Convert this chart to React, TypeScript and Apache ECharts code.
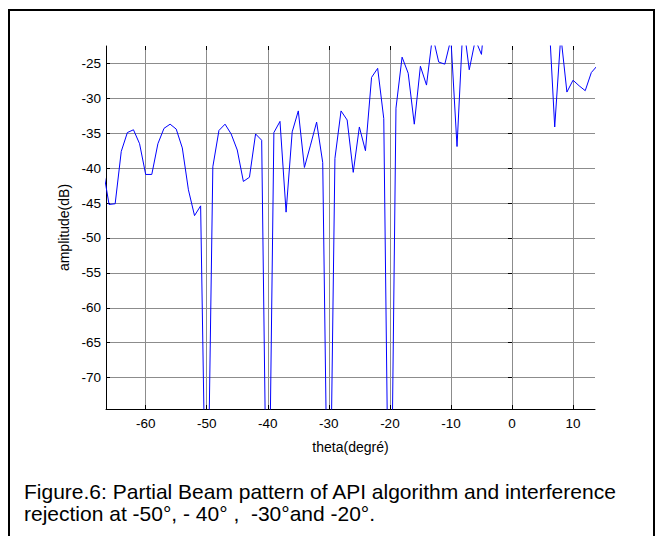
import React, { useEffect, useRef } from 'react';
import * as echarts from 'echarts';

const theta = [
  -67, -66, -65, -64, -63, -62, -61, -60, -59, -58, -57, -56, -55, -54, -53, -52, -51,
  -50, -49, -48, -47, -46, -45, -44, -43, -42, -41, -40, -39, -38, -37, -36, -35, -34,
  -33, -32, -31, -30, -29, -28, -27, -26, -25, -24, -23, -22, -21, -20, -19, -18, -17,
  -16, -15, -14, -13, -12, -11, -10, -9, -8, -7, -6, -5, -4, -3, -2, -1, 0, 1, 2, 3, 4,
  5, 6, 7, 8, 9, 10, 11, 12, 13, 14,
];

const amplitude = [
  -40, -45.2, -45.1, -37.6, -34.9, -34.5, -36.5, -40.9, -40.9, -36.5, -34.3, -33.7, -34.4,
  -37.1, -43.1, -46.8, -45.4,
  -100, -39.8, -34.6, -33.7, -35.1, -37.4, -41.9, -41.3, -35.1, -36.0,
  -105, -34.9, -33.3, -46.3, -34.8, -31.8, -39.9, -36.7, -33.4, -39.2,
  -105, -38.6, -31.8, -33.1, -40.6, -34.1, -37.5, -27.0, -25.7, -32.9,
  -108, -31.4, -24.1, -26.4, -33.7, -25.4, -28.1, -21.0, -24.8, -25.1, -21.5, -36.9,
  -19.0, -25.9, -21.6, -23.7, -14, -9, -5, -2, -0.5, -1, -3, -6, -10, -14, -17.5,
  -34.1, -21.0, -29.1, -27.4, -28.2, -28.9, -26.3, -25.3,
];

const xTicks = [-60, -50, -40, -30, -20, -10, 0, 10];
const yTicks = [-70, -65, -60, -55, -50, -45, -40, -35, -30, -25];

const xName = 'theta(degré)';
const yName = 'amplitude(dB)';
const captionLines = [
  'Figure.6: Partial Beam pattern of API algorithm and interference',
  'rejection at -50°, - 40° ,  -30°and -20°.',
];

const FONT = '"Liberation Sans", Arial, sans-serif';

export default function App() {
  const ref = useRef<HTMLDivElement>(null);

  useEffect(() => {
    document.body.style.margin = '0';
    const chart = echarts.init(ref.current!, null, { renderer: 'svg' });
    const gridColor = '#8c8c8c';
    chart.setOption({
      animation: false,
      backgroundColor: '#ffffff',
      textStyle: { fontFamily: FONT },
      grid: { left: 106, right: 69, top: 46, bottom: 127, containLabel: false },
      xAxis: [
        {
          type: 'value',
          position: 'bottom',
          min: -66.5,
          max: 13.6,
          name: xName,
          nameLocation: 'middle',
          nameGap: 31,
          nameTextStyle: { fontSize: 14, color: '#000', fontFamily: FONT },
          axisLine: { show: true, onZero: false, lineStyle: { color: '#000', width: 1 } },
          axisTick: { show: true, inside: true, length: 4, customValues: xTicks, lineStyle: { color: '#000' } },
          axisLabel: { customValues: xTicks, color: '#000', fontSize: 13.5, margin: 7, fontFamily: FONT },
          splitLine: { show: true, lineStyle: { color: gridColor, width: 1 } },
        },
        {
          type: 'value',
          position: 'top',
          min: -66.5,
          max: 13.6,
          axisLine: { show: false },
          axisTick: { show: true, inside: true, length: 4, customValues: xTicks, lineStyle: { color: '#000' } },
          axisLabel: { show: false },
          splitLine: { show: false },
        },
      ],
      yAxis: [
        {
          type: 'value',
          position: 'left',
          min: -74.5,
          max: -22.5,
          name: yName,
          nameLocation: 'middle',
          nameRotate: 90,
          nameGap: 31,
          nameTextStyle: { fontSize: 14, color: '#000', fontFamily: FONT },
          axisLine: { show: true, onZero: false, lineStyle: { color: '#000', width: 1 } },
          axisTick: { show: true, inside: true, length: 4, customValues: yTicks, lineStyle: { color: '#000' } },
          axisLabel: { customValues: yTicks, color: '#000', fontSize: 13.5, margin: 5, fontFamily: FONT },
          splitLine: { show: true, lineStyle: { color: gridColor, width: 1 } },
        },
        {
          type: 'value',
          position: 'right',
          min: -74.5,
          max: -22.5,
          axisLine: { show: false },
          axisTick: { show: true, inside: true, length: 4, customValues: yTicks, lineStyle: { color: '#000' } },
          axisLabel: { show: false },
          splitLine: { show: false },
        },
      ],
      series: [
        {
          type: 'line',
          xAxisIndex: 0,
          yAxisIndex: 0,
          data: theta.map((t, i) => [t, amplitude[i]]),
          showSymbol: false,
          symbol: 'none',
          clip: true,
          silent: true,
          lineStyle: { color: '#0000ff', width: 1 },
        },
      ],
      graphic: [
        {
          type: 'rect',
          shape: { x: 9, y: 10, width: 645, height: 540 },
          style: { fill: 'none', stroke: '#000', lineWidth: 2 },
          silent: true,
        },
        {
          type: 'text',
          x: 24,
          y: 491,
          style: { text: captionLines[0], fontSize: 21, fill: '#000', fontFamily: FONT, verticalAlign: 'middle' },
          silent: true,
        },
        {
          type: 'text',
          x: 24,
          y: 513,
          style: { text: captionLines[1], fontSize: 21, fill: '#000', fontFamily: FONT, verticalAlign: 'middle' },
          silent: true,
        },
      ],
    });
    return () => chart.dispose();
  }, []);

  return <div ref={ref} style={{ width: 664, height: 536 }} />;
}
